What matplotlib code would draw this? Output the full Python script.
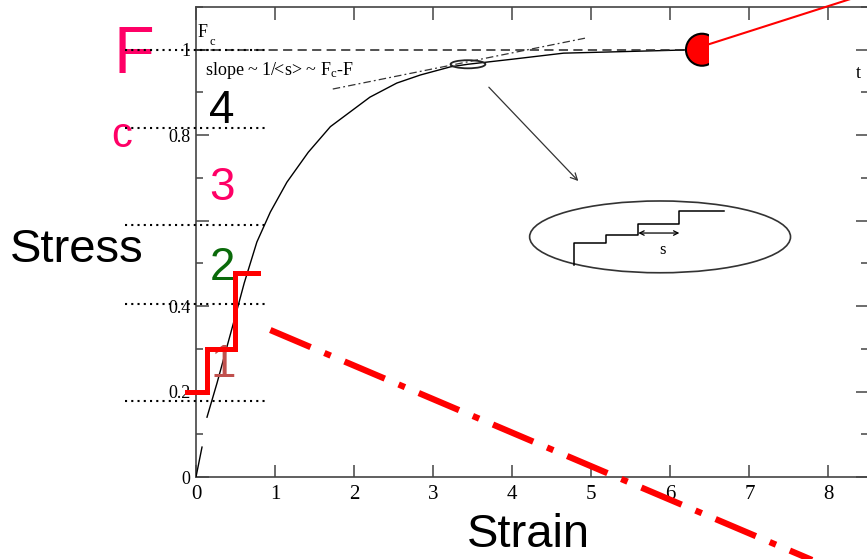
import matplotlib
matplotlib.use("Agg")
import matplotlib.pyplot as plt
from matplotlib.patches import Ellipse, Rectangle
from matplotlib.ticker import MultipleLocator, FixedLocator
import numpy as np

plt.rcParams["mathtext.fontset"] = "custom"
plt.rcParams["mathtext.rm"] = "Liberation Serif"
plt.rcParams["mathtext.it"] = "Liberation Serif:italic"

SERIF = "Liberation Serif"
SANS = "Liberation Sans"

# stress-strain curve (NaN marks the break near the origin)
strain = [0.0, 0.076, np.nan, 0.139, 0.266, 0.494, 0.61, 0.77, 0.94, 1.15, 1.42,
          1.70, 2.20, 2.54, 2.84, 3.22, 3.44, 4.01, 4.65, 5.28, 6.3]
stress = [0.0, 0.07, np.nan, 0.14, 0.22, 0.374, 0.454, 0.55, 0.62, 0.69, 0.76,
          0.82, 0.889, 0.922, 0.941, 0.96, 0.966, 0.978, 0.992, 0.995, 1.0]

# coarse stepwise loading path
step_x = [-0.11, 0.14, 0.49, 0.78]
step_y = [0.20, 0.30, 0.477, 0.477]

# tangent (slope) line near saturation
slope_x = [1.73, 4.92]
slope_y = [0.908, 1.027]

# reference stress levels
level_y = [1.0, 0.817, 0.59, 0.405, 0.178]
level_x = [-0.9, 0.87]

# critical stress F_c
fc_value = 1.0
fc_end = 6.3

# staircase inside the magnified view
stair_x = [4.785, 4.785, 5.19, 5.19, 5.595, 5.595, 6.114, 6.114, 6.684]
stair_y = [0.496, 0.548, 0.548, 0.566, 0.566, 0.592, 0.592, 0.623, 0.623]

# trend line
trend_x = [0.94, 8.4]
trend_y = [0.344, -0.242]

# labelled regimes
regime_labels = ["4", "3", "2", "1"]
regime_x = [0.33, 0.33, 0.33, 0.342]
regime_y = [0.828, 0.648, 0.461, 0.234]
regime_colors = ["black", "#FF0066", "#0A6A0A", "#C0504D"]

xticks = [0, 1, 2, 3, 4, 5, 6, 7, 8]
yticks = [0, 0.2, 0.4, 0.6, 0.8, 1.0]
ytick_labels = ["0", "0.2", "0.4", "", "0.8", "1"]

fig = plt.figure(figsize=(8.67, 5.59), dpi=100)
ax = fig.add_axes([196 / 867, 82 / 559, 672 / 867, 470 / 559])
ax.set_xlim(0, 8.5)
ax.set_ylim(0, 1.1)

spine_c = "#444444"
for s in ax.spines.values():
    s.set_color(spine_c)
    s.set_linewidth(1.2)

ax.xaxis.set_major_locator(FixedLocator(xticks))
ax.set_xticklabels([str(t) for t in xticks])
ax.yaxis.set_major_locator(FixedLocator(yticks))
ax.set_yticklabels(ytick_labels)
ax.yaxis.set_minor_locator(MultipleLocator(0.1))
ax.tick_params(axis="both", which="major", direction="in", length=9, width=1.1,
               color=spine_c, top=True, right=True)
ax.tick_params(axis="y", which="minor", direction="in", length=5, width=1.1,
               color=spine_c, left=True, right=True)
ax.tick_params(axis="x", labelsize=15, pad=6)
ax.tick_params(axis="y", labelsize=13, pad=4)
for lab in ax.get_xticklabels() + ax.get_yticklabels():
    lab.set_fontfamily(SERIF)

ax.set_xlabel("Strain", fontsize=34, fontfamily=SANS, va="center", ha="center")
ax.xaxis.set_label_coords(0.494, -0.124)
ax.set_ylabel("Stress", fontsize=34, fontfamily=SANS, rotation=0, ha="center", va="center")
ax.yaxis.set_label_coords(-0.177, 0.483)

# main curve
ax.plot(strain, stress, color="black", lw=1.0, zorder=3)

# F_c level and its label
ax.plot([0, fc_end], [fc_value, fc_value], color="#222222", lw=1.1,
        dashes=(6, 3.5), zorder=3)
ax.text(0.013, 1.03, "F", fontfamily=SERIF, fontsize=13, ha="left", va="baseline")
ax.text(0.165, 1.011, "c", fontfamily=SERIF, fontsize=9, ha="left", va="baseline")

# tangent line and its label
ax.plot(slope_x, slope_y, color="#333333", lw=0.9, dashes=(6, 2.5, 1.5, 2.5), zorder=3)
ax.text(0.114, 0.941, r"slope ~ 1/<s> ~ F$_{\rm c}$-F", fontfamily=SERIF,
        fontsize=13, ha="left", va="baseline")

# zoom marker and arrow
ax.add_patch(Ellipse((3.44, 0.966), 0.44, 0.019, fill=False, ec="#222222", lw=1.3, zorder=4))
ax.annotate("", xy=(4.86, 0.688), xytext=(3.68, 0.917),
            arrowprops=dict(arrowstyle="->", lw=0.9, color="#333333", mutation_scale=12))

# magnified view
ax.add_patch(Ellipse((5.87, 0.562), 3.30, 0.168, fill=False, ec="#333333", lw=1.2))
ax.plot(stair_x, stair_y, color="black", lw=1.1)
ax.annotate("", xy=(6.114, 0.571), xytext=(5.595, 0.571),
            arrowprops=dict(arrowstyle="<->", lw=0.9, color="black", mutation_scale=8,
                            shrinkA=0, shrinkB=0))
ax.text(5.9, 0.522, "s", fontfamily=SERIF, fontsize=12, ha="center", va="baseline")
ax.text(8.34, 0.934, "t", fontfamily=SERIF, fontsize=13, ha="left", va="baseline",
        clip_on=False)

# reference stress levels
for ly in level_y:
    ax.plot(level_x, [ly, ly], color="black", lw=1.5, linestyle=(0, (1, 2)),
            clip_on=False, zorder=5)

# big annotation letters
ax.text(-0.785, 0.9455, "F", fontfamily=SANS, fontsize=48, color="#FF0066",
        ha="center", va="baseline", clip_on=False)
ax.text(-0.937, 0.772, "c", fontfamily=SANS, fontsize=30, color="#FF0066",
        ha="center", va="baseline", clip_on=False)
for lab, lx, ly, lc in zip(regime_labels, regime_x, regime_y, regime_colors):
    ax.text(lx, ly, lab, fontfamily=SANS, fontsize=33, color=lc,
            ha="center", va="baseline", zorder=4)

# stepwise path
ax.plot(step_x, step_y, drawstyle="steps-post", color="#FF0000", lw=3.6,
        solid_joinstyle="miter", clip_on=False, zorder=6)

# trend line
ax.plot(trend_x, trend_y, color="#FF0000", lw=4.5, dashes=(7.0, 2.4, 1.1, 2.4),
        clip_on=False, zorder=6)

# endpoint marker (right side cut off) with pointer line
circ = Ellipse((6.4, 1.0), 0.405, 0.0749, fc="#FF0000", ec="black", lw=1.5,
               zorder=7, clip_on=True)
ax.add_patch(circ)
clip_rect = Rectangle((6.0, 0.9), 0.49, 0.2, transform=ax.transData)
circ.set_clip_path(clip_rect)
ax.plot([6.49, 8.3], [1.013, 1.12], color="#FF0000", lw=1.5, clip_on=False, zorder=7)

fig.savefig("out.png", dpi=100)
